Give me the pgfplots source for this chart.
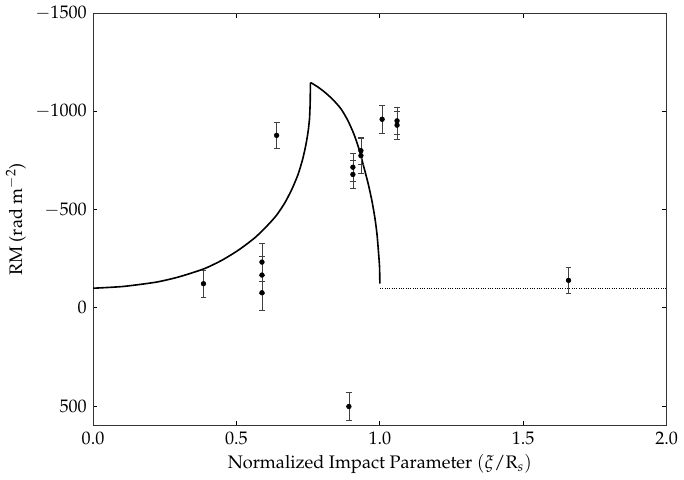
\documentclass[border=0pt]{standalone}
\usepackage[T1]{fontenc}
\usepackage{mathpazo}
\usepackage{pgfplots}
\pgfplotsset{compat=1.18}
\begin{document}
\fontsize{12.4}{14}\selectfont
\begin{tikzpicture}
\begin{axis}[
  scale only axis,
  width=392pt, height=282pt,
  xmin=0, xmax=2, ymin=-1500, ymax=600,
  y dir=reverse,
  xtick={0,0.5,1,1.5,2},
  ytick={-1500,-1000,-500,0,500},
  xticklabel style={/pgf/number format/.cd,fixed,fixed zerofill,precision=1},
  yticklabel style={/pgf/number format/.cd,fixed,1000 sep={}},
  tick align=inside, tick pos=both,
  major tick length=3pt,
  axis line style={line width=0.6pt, black!80},
  tick style={black, line width=0.6pt},
  minor tick num=0,
  xlabel={Normalized Impact Parameter $(\xi/\mathrm{R}_s)$},
  ylabel={RM (rad m$^{-2}$)},
  label style={font=\fontsize{12.4}{14}\selectfont},
  ticklabel style={font=\fontsize{12.4}{14}\selectfont},
  xlabel style={yshift=2pt},
  ylabel style={yshift=-2pt},
  clip=true,
]
% model curve: rising part
\addplot[black, line width=1.1pt, smooth, tension=0.4] coordinates {
(0.000,-100) (0.105,-109) (0.220,-131) (0.300,-158) (0.387,-199)
(0.450,-243) (0.508,-295) (0.565,-358) (0.611,-424) (0.640,-472) (0.668,-533)
(0.692,-600) (0.714,-676) (0.730,-752) (0.740,-815) (0.746,-862) (0.751,-910) (0.755,-966)
};
\addplot[black, line width=1.1pt] coordinates {
(0.755,-966) (0.757,-1040) (0.758,-1143) (0.760,-1146)
};
% falling part
\addplot[black, line width=1.1pt, smooth, tension=0.4] coordinates {
(0.760,-1146) (0.783,-1125) (0.806,-1100) (0.835,-1062) (0.864,-1014) (0.888,-955) (0.910,-883)
(0.928,-805) (0.944,-718) (0.960,-628) (0.973,-540) (0.983,-455) (0.990,-376)
(0.995,-290) (0.999,-207) (1.000,-123)
};
% asymptote
\addplot[black, line width=0.6pt, densely dotted] coordinates {(1.0,-100) (2.0,-100)};
% data
\addplot[black, only marks, mark=*, mark size=1.6pt,
  error bars/.cd, y dir=both, y explicit,
  error bar style={line width=0.5pt, black!75},
  error mark options={rotate=90, mark size=2pt, line width=0.5pt, black!75}]
  coordinates {
(0.385,-123) +- (0,70)
(0.589,-233) +- (0,97)
(0.589,-167) +- (0,95)
(0.589,-77) +- (0,90)
(0.640,-878) +- (0,67)
(0.906,-716) +- (0,72)
(0.906,-679) +- (0,72)
(0.934,-800) +- (0,68)
(0.934,-775) +- (0,90)
(1.008,-960) +- (0,71)
(1.060,-952) +- (0,70)
(1.060,-930) +- (0,72)
(0.892,502) +- (0,73)
(1.658,-140) +- (0,68)
};
\end{axis}
\end{tikzpicture}
\end{document}
